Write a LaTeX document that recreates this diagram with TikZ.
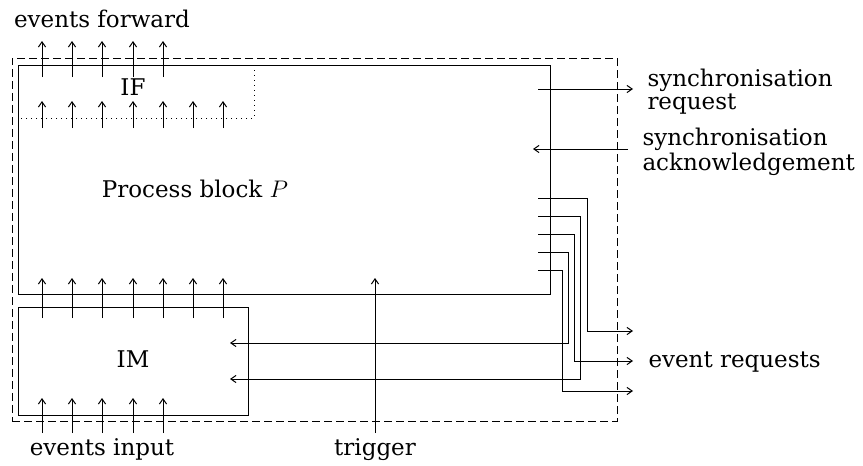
\documentclass[tikz,border=0pt]{standalone}
\usepackage{fontspec}
\setmainfont{DejaVu Serif}
\usetikzlibrary{arrows.meta, positioning}

\begin{document}
\begin{tikzpicture}[
    x=0.5pt, y=-0.5pt, line width=0.5pt,
    block/.style={rectangle, draw, inner sep=0pt, outer sep=0pt},
    boundary/.style={rectangle, draw, dash pattern=on 4pt off 2pt, inner sep=0pt, outer sep=0pt},
    arrow/.style={->, >={Straight Barb[length=2.6pt, width=3.6pt]}},
    lbl/.style={font=\fontsize{11.5}{10}\selectfont, inner sep=0pt, anchor=base},
    lbltwo/.style={lbl, align=left, anchor=north west}
]
\useasboundingbox (0,0) rectangle (863,466);

% System boundary
\node[boundary, minimum width=302.5pt, minimum height=181.5pt] (sys) at (314.5,239.5) {};

% Blocks
\node[block, minimum width=266pt, minimum height=114.5pt] (P) at (284,179.5) {};
\node[inner sep=0pt, outer sep=0pt, minimum width=118pt, minimum height=26.5pt] (IF) at (136,91.5) {};
\draw[dotted] (IF.north east) -- (IF.south east) -- (IF.south west);
\node[block, minimum width=115pt, minimum height=54pt] (IM) at (133,361) {};

% Labels
\node[lbl] (ptext) at (195,197) {Process block $P$};
\node[lbl] (iftext) at (133,95) {IF};
\node[lbl] (imtext) at (133,367) {IM};
\node[lbl] (fwd) at (102,27) {events forward};
\node[lbl] (inp) at (102,455) {events input};
\node[lbl] (trig) at (375,455) {trigger};
\node[lbltwo] (sreq) at (647,69) {synchronisation\\request};
\node[lbltwo] (sack) at (642,128) {synchronisation\\acknowledgement};
\node[lbl, anchor=base west] (ereq) at (648,367) {event requests};

% Events forward and IF inputs
\foreach \x [count=\i] in {42,72,102,133,163} {
  \coordinate (fo-\i) at (\x,77);
  \coordinate (ft-\i) at (\x,41);
  \draw[arrow] (fo-\i) -- (ft-\i);
}
\foreach \x [count=\i] in {42,72,102,133,163,193,223} {
  \coordinate (io-\i) at (\x,128);
  \coordinate (it-\i) at (\x,101);
  \draw[arrow] (io-\i) -- (it-\i);
  \coordinate (mo-\i) at (\x,318);
  \coordinate (mt-\i) at (\x,278);
  \draw[arrow] (mo-\i) -- (mt-\i);
}

% Events input
\foreach \x [count=\i] in {42,72,102,133,163} {
  \coordinate (eo-\i) at (\x,433);
  \coordinate (et-\i) at (\x,398);
  \draw[arrow] (eo-\i) -- (et-\i);
}

% Trigger
\coordinate (tr-a) at (375,433);
\coordinate (tr-b) at (375,278);
\draw[arrow] (tr-a) -- (tr-b);

% Synchronisation
\coordinate (sq-a) at (538,89);
\coordinate (sq-b) at (633,89);
\draw[arrow] (sq-a) -- (sq-b);
\coordinate (sk-a) at (628,149);
\coordinate (sk-b) at (533,149);
\draw[arrow] (sk-a) -- (sk-b);

% Event requests
\foreach \y/\x/\t/\e [count=\i] in {198/587/331/633, 216/580/379/230, 234/574/361/633, 252/568/343/230, 270/562/391/633} {
  \coordinate (rs-\i) at (538,\y);
  \coordinate (re-\i) at (\e,\t);
  \draw[arrow] (rs-\i) -- (\x,\y) |- (re-\i);
}

\end{tikzpicture}
\end{document}
